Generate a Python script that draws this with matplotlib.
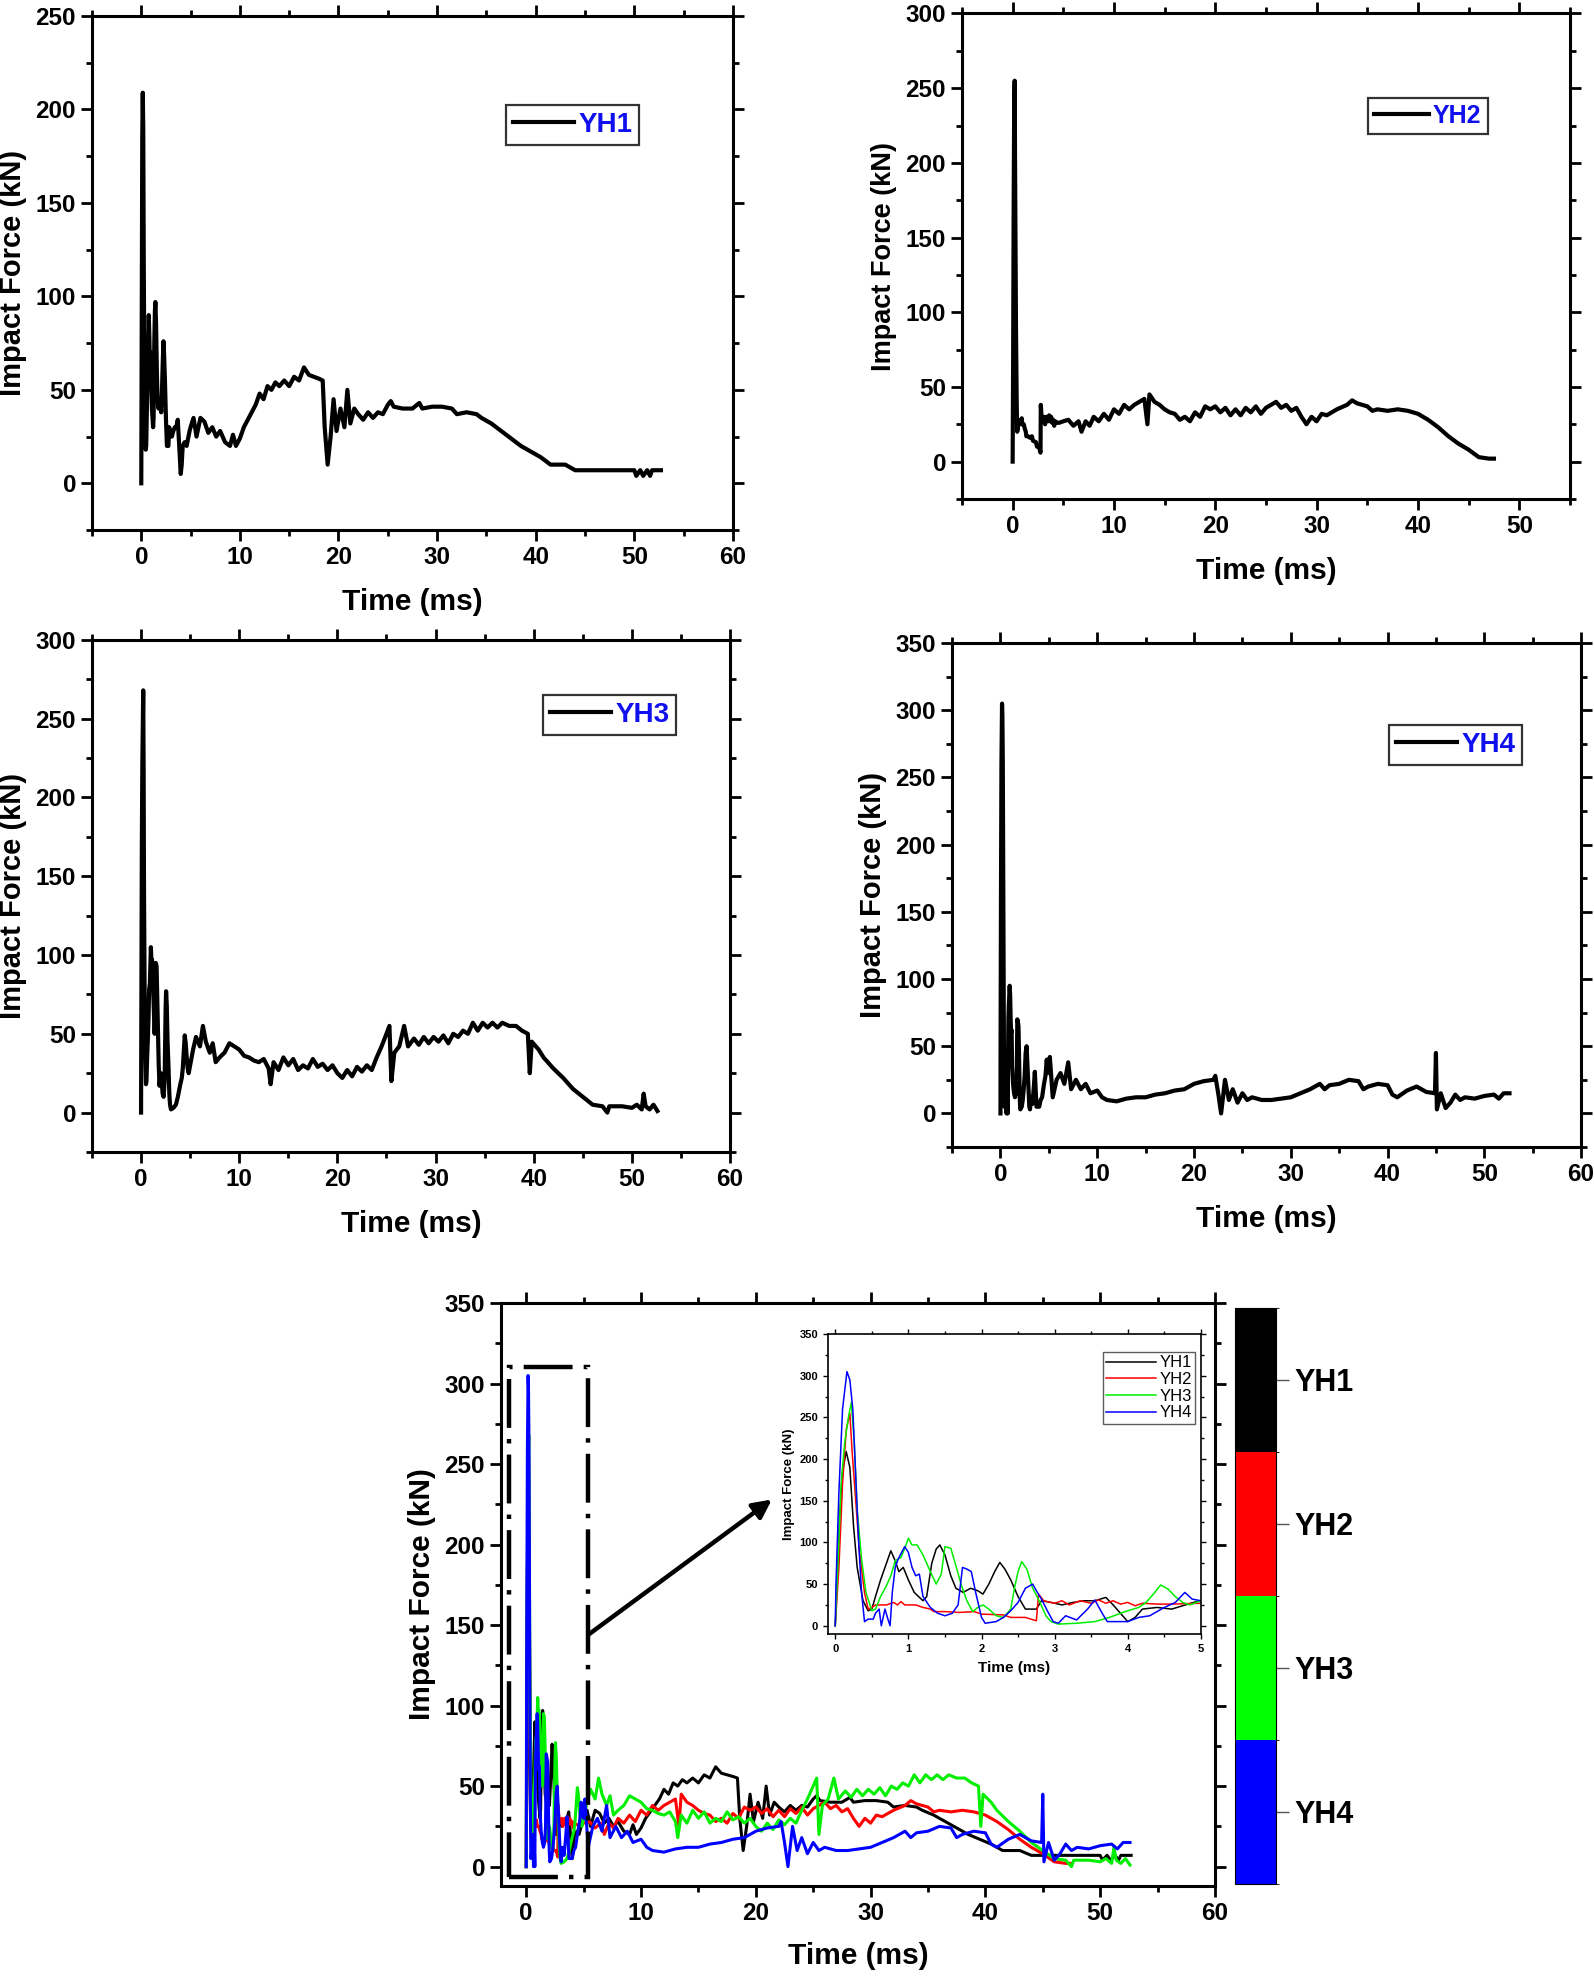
import matplotlib
matplotlib.use("Agg")
import matplotlib.pyplot as plt
from matplotlib import font_manager
from matplotlib.colors import ListedColormap, BoundaryNorm
from matplotlib.colorbar import ColorbarBase
from matplotlib.patches import Rectangle
from matplotlib.ticker import MultipleLocator

# ---------------- data (time in ms, force in kN) ----------------
yh1_t = [0.00, 0.03, 0.06, 0.10, 0.15, 0.20, 0.25, 0.30, 0.38, 0.45,
         0.50, 0.55, 0.62, 0.70, 0.76, 0.82, 0.87, 0.93, 1.00, 1.08,
         1.20, 1.25, 1.32, 1.38, 1.43, 1.50, 1.58, 1.65, 1.75, 1.85,
         1.95, 2.02, 2.10, 2.18, 2.25, 2.32, 2.40, 2.50, 2.60, 2.75,
         2.82, 2.95, 3.10, 3.25, 3.40, 3.55, 3.70, 3.80, 3.90, 4.00,
         4.10, 4.20, 4.40, 4.60, 4.75, 4.90, 5.00,
         5.3, 5.6, 6.0, 6.4, 6.8, 7.2, 7.6, 8.0, 8.5, 9.0,
         9.3, 9.6, 10.0, 10.4, 10.8, 11.2, 11.6, 12.0, 12.4, 12.8,
         13.2, 13.6, 14.0, 14.5, 15.0, 15.5, 16.0, 16.5, 17.0, 17.5,
         18.0, 18.4, 18.6, 18.9, 19.2, 19.5, 19.8, 20.2, 20.6, 20.9,
         21.2, 21.6, 22.0, 22.5, 23.0, 23.5, 24.0, 24.5, 25.0, 25.3,
         25.6, 26.5, 27.5, 28.2, 28.5, 29.5, 30.5, 31.5, 32.0, 33.0,
         34.0, 34.5, 35.5, 36.5, 37.5, 38.5, 39.5, 40.5, 41.5, 43.0,
         44.0, 46.0, 50.0, 50.2, 50.6, 50.9, 51.3, 51.6, 51.8, 52.7]
yh1_f = [0, 60, 130, 185, 209, 190, 120, 70, 30, 18,
         20, 35, 55, 75, 90, 78, 65, 70, 55, 40,
         30, 35, 75, 92, 97, 85, 60, 45, 40, 45,
         42, 38, 50, 65, 76, 68, 55, 35, 20, 20,
         30, 28, 25, 28, 30, 30, 34, 25, 15, 5,
         10, 20, 22, 20, 24, 28, 30,
         35, 25, 35, 33, 27, 30, 25, 28, 22, 20,
         26, 20, 24, 30, 34, 38, 42, 48, 45, 52,
         50, 54, 52, 55, 52, 57, 55, 62, 58, 57,
         56, 55, 30, 10, 25, 45, 28, 40, 30, 50,
         32, 40, 37, 34, 38, 35, 38, 37, 42, 44,
         41, 40, 40, 43, 40, 41, 41, 40, 37, 38,
         37, 35, 32, 28, 24, 20, 17, 14, 10, 10,
         7, 7, 7, 4, 7, 4, 7, 4, 7, 7]

yh2_t = [0.00, 0.05, 0.10, 0.15, 0.20, 0.23, 0.28, 0.33, 0.40, 0.45,
         0.50, 0.55, 0.70, 0.80, 0.85, 0.90, 0.95, 1.10, 1.20, 1.30,
         1.35, 1.50, 1.70, 1.90, 2.00, 2.30, 2.40, 2.60, 2.75, 2.78,
         2.85, 3.00, 3.10, 3.20, 3.35, 3.50, 3.60, 3.70, 3.80, 3.90,
         4.00, 4.10, 4.20, 4.40, 4.60, 5.00,
         5.5, 6.0, 6.5, 6.8, 7.2, 7.6, 8.0, 8.5, 9.0, 9.5,
         10.0, 10.5, 11.0, 11.5, 12.0, 12.5, 13.0, 13.3, 13.5, 14.0,
         14.5, 15.0, 15.5, 16.0, 16.5, 17.0, 17.5, 18.0, 18.5, 19.0,
         19.5, 20.0, 20.5, 21.0, 21.5, 22.0, 22.5, 23.0, 23.5, 24.0,
         24.5, 25.0, 25.5, 26.0, 26.5, 27.0, 27.5, 28.0, 28.5, 29.0,
         29.5, 30.0, 30.5, 31.0, 32.0, 33.0, 33.5, 34.0, 35.0, 35.5,
         36.0, 37.0, 38.0, 39.0, 40.0, 41.0, 42.0, 43.0, 44.0, 45.0,
         46.0, 47.0, 47.5]
yh2_f = [0, 70, 170, 235, 255, 210, 150, 90, 40, 20,
         22, 25, 25, 28, 25, 29, 25, 25, 22, 20,
         17, 17, 16, 17, 14, 13, 10, 10, 6, 38,
         30, 27, 30, 25, 30, 27, 31, 27, 30, 26,
         28, 24, 27, 26, 26, 27,
         28, 24, 27, 20, 27, 24, 30, 27, 32, 28,
         35, 32, 38, 35, 38, 40, 42, 25, 45, 40,
         38, 35, 33, 32, 28, 30, 27, 33, 30, 37,
         35, 37, 33, 36, 31, 35, 31, 36, 33, 37,
         32, 36, 38, 40, 36, 38, 34, 36, 30, 25,
         30, 27, 32, 31, 35, 38, 41, 39, 37, 34,
         35, 34, 35, 34, 32, 28, 23, 17, 12, 8,
         3, 2, 2]

yh3_t = [0.00, 0.04, 0.08, 0.13, 0.18, 0.22, 0.26, 0.30, 0.36, 0.42,
         0.50, 0.55, 0.62, 0.70, 0.76, 0.82, 0.90, 0.96, 1.00, 1.05,
         1.12, 1.20, 1.30, 1.38, 1.45, 1.50, 1.58, 1.65, 1.72, 1.80,
         1.88, 1.95, 2.02, 2.10, 2.20, 2.30, 2.40, 2.45, 2.50, 2.55,
         2.62, 2.70, 2.80, 2.88, 2.95, 3.05, 3.30, 3.55, 3.75, 3.90,
         4.00, 4.15, 4.25, 4.35, 4.45, 4.55, 4.65, 4.75, 4.85, 5.00,
         5.3, 5.6, 6.0, 6.3, 6.6, 7.0, 7.3, 7.6, 8.0, 8.5,
         9.0, 9.5, 10.0, 10.5, 11.0, 11.5, 12.0, 12.5, 13.0, 13.2,
         13.5, 14.0, 14.5, 15.0, 15.5, 16.0, 16.5, 17.0, 17.5, 18.0,
         18.5, 19.0, 19.5, 20.0, 20.5, 21.0, 21.5, 22.0, 22.5, 23.0,
         23.5, 24.0, 24.5, 25.0, 25.3, 25.5, 25.8, 26.3, 26.8, 27.2,
         27.8, 28.3, 28.8, 29.3, 29.8, 30.3, 30.8, 31.3, 31.8, 32.3,
         32.8, 33.3, 33.8, 34.3, 34.8, 35.3, 35.8, 36.3, 36.8, 37.5,
         38.2, 38.8, 39.4, 39.6, 39.8, 40.5, 41.0, 42.0, 43.0, 44.0,
         45.0, 46.0, 47.0, 47.5, 47.7, 49.0, 50.0, 50.5, 51.0, 51.2,
         51.4, 51.8, 52.2, 52.6]
yh3_f = [0, 80, 170, 220, 250, 268, 220, 140, 80, 40,
         18, 20, 35, 48, 60, 78, 82, 95, 105, 97,
         97, 85, 65, 50, 62, 95, 93, 72, 50, 30,
         17, 22, 25, 20, 12, 10, 20, 45, 65, 77,
         68, 45, 28, 12, 5, 2, 3, 5, 10, 15,
         18, 22, 28, 38, 49, 44, 35, 28, 25, 30,
         40, 48, 42, 55, 45, 38, 44, 32, 35, 38,
         44, 42, 40, 36, 35, 33, 32, 34, 28, 18,
         32, 27, 35, 30, 34, 27, 30, 28, 34, 29,
         31, 27, 30, 25, 22, 27, 23, 29, 26, 30,
         27, 35, 42, 50, 55, 20, 38, 42, 55, 42,
         47, 43, 48, 44, 48, 45, 49, 44, 50, 48,
         52, 50, 57, 52, 57, 54, 57, 54, 57, 55,
         55, 52, 50, 25, 45, 40, 35, 28, 22, 15,
         10, 5, 4, 0, 4, 4, 3, 5, 2, 12,
         4, 2, 5, 1]

yh4_t = [0.00, 0.01, 0.05, 0.10, 0.16, 0.20, 0.24, 0.28, 0.32, 0.36,
         0.40, 0.45, 0.52, 0.55, 0.60, 0.63, 0.68, 0.72, 0.75, 0.78,
         0.82, 0.86, 0.95, 1.00, 1.05, 1.10, 1.15, 1.20, 1.30, 1.40,
         1.50, 1.60, 1.68, 1.74, 1.80, 1.86, 1.92, 2.00, 2.05, 2.20,
         2.30, 2.40, 2.50, 2.60, 2.70, 2.75, 2.82, 2.90, 2.98, 3.05,
         3.15, 3.30, 3.45, 3.55, 3.65, 3.72, 4.00, 4.15, 4.30, 4.50,
         4.65, 4.78, 4.88, 5.00,
         5.1, 5.4, 5.8, 6.2, 6.6, 7.0, 7.3, 7.8, 8.3, 8.8,
         9.3, 10.0, 10.5, 11.0, 12.0, 13.0, 14.0, 15.0, 16.0, 17.0,
         18.0, 19.0, 20.0, 21.0, 22.0, 22.2, 22.5, 22.8, 23.2, 23.6,
         24.0, 24.5, 25.0, 25.5, 26.0, 27.0, 28.0, 29.0, 30.0, 31.0,
         32.0, 33.0, 33.5, 34.0, 35.0, 36.0, 37.0, 37.5, 38.0, 39.0,
         40.0, 40.5, 41.0, 42.0, 43.0, 44.0, 44.9, 45.0, 45.1, 45.5,
         46.0, 46.5, 47.0, 47.5, 48.0, 49.0, 50.0, 51.0, 51.5, 52.0,
         52.6]
yh4_f = [0, 50, 160, 260, 305, 295, 260, 180, 100, 40,
         5, 8, 8, 15, 20, 0, 20, 8, 0, 40,
         70, 80, 95, 88, 70, 60, 62, 35, 22, 15,
         12, 15, 25, 70, 68, 65, 40, 10, 3, 5,
         10, 18, 28, 45, 50, 42, 32, 18, 5, 3,
         12, 7, 20, 31, 15, 5, 5, 10, 12, 22,
         28, 40, 32, 30,
         42, 12, 25, 30, 22, 38, 18, 25, 18, 22,
         15, 17, 12, 10, 9, 11, 12, 12, 14, 15,
         17, 18, 22, 24, 25, 28, 15, 0, 25, 10,
         18, 8, 15, 10, 12, 10, 10, 11, 12, 15,
         18, 22, 18, 21, 22, 25, 24, 18, 20, 22,
         21, 14, 12, 17, 20, 16, 15, 45, 3, 15,
         4, 8, 14, 10, 12, 11, 13, 14, 11, 15,
         15]

series_names = ["YH1", "YH2", "YH3", "YH4"]
series_t = [yh1_t, yh2_t, yh3_t, yh4_t]
series_f = [yh1_f, yh2_f, yh3_f, yh4_f]
series_colors = ["#000000", "#FF0000", "#00EE00", "#0000FF"]
colorbar_labels = ["YH4", "YH3", "YH2", "YH1"]
colorbar_colors = ["#0000FF", "#00FF00", "#FF0000", "#000000"]

# ---------------- fonts ----------------
def has_font(name):
    try:
        font_manager.findfont(font_manager.FontProperties(family=name), fallback_to_default=False)
        return True
    except Exception:
        return False

HAVE_NARROW = has_font("Liberation Sans Narrow")
NARROW = "Liberation Sans Narrow" if HAVE_NARROW else "Liberation Sans"
WIDE = "Liberation Sans"
plt.rcParams["font.family"] = [WIDE, "DejaVu Sans"]
XLAB_FS = 24 if HAVE_NARROW else 21.5
TICK_FS = 19 if HAVE_NARROW else 17.5

fig = plt.figure(figsize=(15.94, 19.80), dpi=100)


def style_axes(ax, xlim, ylim, xmaj, xmin, ymaj, ymin, tick_fs=TICK_FS, spine_w=2.2,
               maj_len=8, min_len=4.5, tick_w=2.0):
    ax.set_xlim(*xlim)
    ax.set_ylim(*ylim)
    ax.xaxis.set_major_locator(MultipleLocator(xmaj))
    ax.xaxis.set_minor_locator(MultipleLocator(xmin))
    ax.yaxis.set_major_locator(MultipleLocator(ymaj))
    ax.yaxis.set_minor_locator(MultipleLocator(ymin))
    for s in ax.spines.values():
        s.set_linewidth(spine_w)
    ax.tick_params(which="both", direction="out", top=True, right=True,
                   labeltop=False, labelright=False, width=tick_w)
    ax.tick_params(which="major", length=maj_len)
    ax.tick_params(which="minor", length=min_len)
    for lab in ax.get_xticklabels() + ax.get_yticklabels():
        lab.set_fontfamily(NARROW)
        lab.set_fontweight("bold")
        lab.set_fontsize(tick_fs)


def single_panel(rect, idx, xlim, ylim, leg_anchor, ylabel_fs=21, leg_fs=20):
    ax = fig.add_axes(rect)
    ax.plot(series_t[idx], series_f[idx], color="black", lw=3.0, label=series_names[idx])
    ax.set_xticks([v for v in range(0, int(xlim[1]) + 1, 10)])
    style_axes(ax, xlim, ylim, 10, 5, 50, 25)
    ax.set_xlabel("Time (ms)", fontsize=XLAB_FS, fontweight="bold", family=NARROW, labelpad=14)
    ax.set_ylabel("Impact Force (kN)", fontsize=ylabel_fs, fontweight="bold", family=WIDE, labelpad=6)
    leg = ax.legend(loc="upper left", bbox_to_anchor=leg_anchor, frameon=True, fancybox=False,
                    handlelength=2.2, handletextpad=0.15, borderpad=0.25, borderaxespad=0,
                    prop={"family": NARROW, "weight": "bold", "size": leg_fs})
    leg.get_frame().set_edgecolor("black")
    leg.get_frame().set_linewidth(1.6)
    for txt in leg.get_texts():
        txt.set_color("#1010EE")
    return ax


single_panel([0.0577, 0.7323, 0.4021, 0.2596], 0, (-5, 60), (-25, 250), (0.646, 0.827))
single_panel([0.6035, 0.7480, 0.3814, 0.2452], 1, (-5, 55), (-25, 300), (0.668, 0.826),
             ylabel_fs=19.5, leg_fs=18)
single_panel([0.0577, 0.4182, 0.4003, 0.2586], 2, (-5, 60), (-25, 300), (0.707, 0.893))
single_panel([0.5973, 0.4207, 0.3946, 0.2545], 3, (-5, 60), (-25, 350), (0.695, 0.837))

# ---------------- combined panel ----------------
axm = fig.add_axes([0.3143, 0.0475, 0.4479, 0.2944])
for t, f, c, n in zip(series_t, series_f, series_colors, series_names):
    axm.plot(t, f, color=c, lw=2.2, label=n)
style_axes(axm, (-2.2, 60), (-12, 350), 10, 5, 50, 25)
axm.set_xlabel("Time (ms)", fontsize=XLAB_FS, fontweight="bold", family=NARROW, labelpad=12)
axm.set_ylabel("Impact Force (kN)", fontsize=21.5, fontweight="bold", family=WIDE, labelpad=6)

rect = Rectangle((-1.5, -6.6), 6.85, 316.6, fill=False, edgecolor="black", lw=3.2,
                 linestyle=(0, (11, 2.5, 1, 2.5)), zorder=5)
axm.add_patch(rect)
axm.annotate("", xy=(21.4, 228), xytext=(5.4, 144),
             arrowprops=dict(arrowstyle="-|>", lw=3.2, color="black", mutation_scale=28,
                             shrinkA=0, shrinkB=0), zorder=6)

# ---------------- inset ----------------
axi = fig.add_axes([0.5194, 0.1747, 0.2340, 0.1515])
for t, f, c, n in zip(series_t, series_f, series_colors, series_names):
    axi.plot(t, f, color=c, lw=1.1, label=n)
style_axes(axi, (-0.1, 5), (-10, 350), 1, 0.5, 50, 25, tick_fs=8, spine_w=1.2,
           maj_len=3.5, min_len=2, tick_w=1.0)
axi.set_xlabel("Time (ms)", fontsize=11, fontweight="bold", family=NARROW, labelpad=5)
axi.set_ylabel("Impact Force (kN)", fontsize=9.5, fontweight="bold", family=WIDE, labelpad=3)
legi = axi.legend(loc="upper right", bbox_to_anchor=(0.985, 0.94), frameon=True, fancybox=False,
                  handlelength=3.0, handletextpad=0.2, borderpad=0.2, labelspacing=0.1,
                  borderaxespad=0, prop={"family": NARROW, "size": 12})
legi.get_frame().set_edgecolor("#333333")
legi.get_frame().set_linewidth(1.0)

# ---------------- colour key ----------------
axc = fig.add_axes([0.7748, 0.0485, 0.0257, 0.2910])
cmap = ListedColormap(colorbar_colors)
norm = BoundaryNorm([0, 1, 2, 3, 4], cmap.N)
cb = ColorbarBase(axc, cmap=cmap, norm=norm, ticks=[0.5, 1.5, 2.5, 3.5], orientation="vertical")
cb.set_ticklabels(colorbar_labels)
cb.outline.set_linewidth(0.8)
axc.tick_params(length=9, width=1.0, color="#555555", pad=4)
for lab in axc.get_yticklabels():
    lab.set_fontfamily(WIDE)
    lab.set_fontweight("bold")
    lab.set_fontsize(22)

fig.savefig("out.png", dpi=100)
